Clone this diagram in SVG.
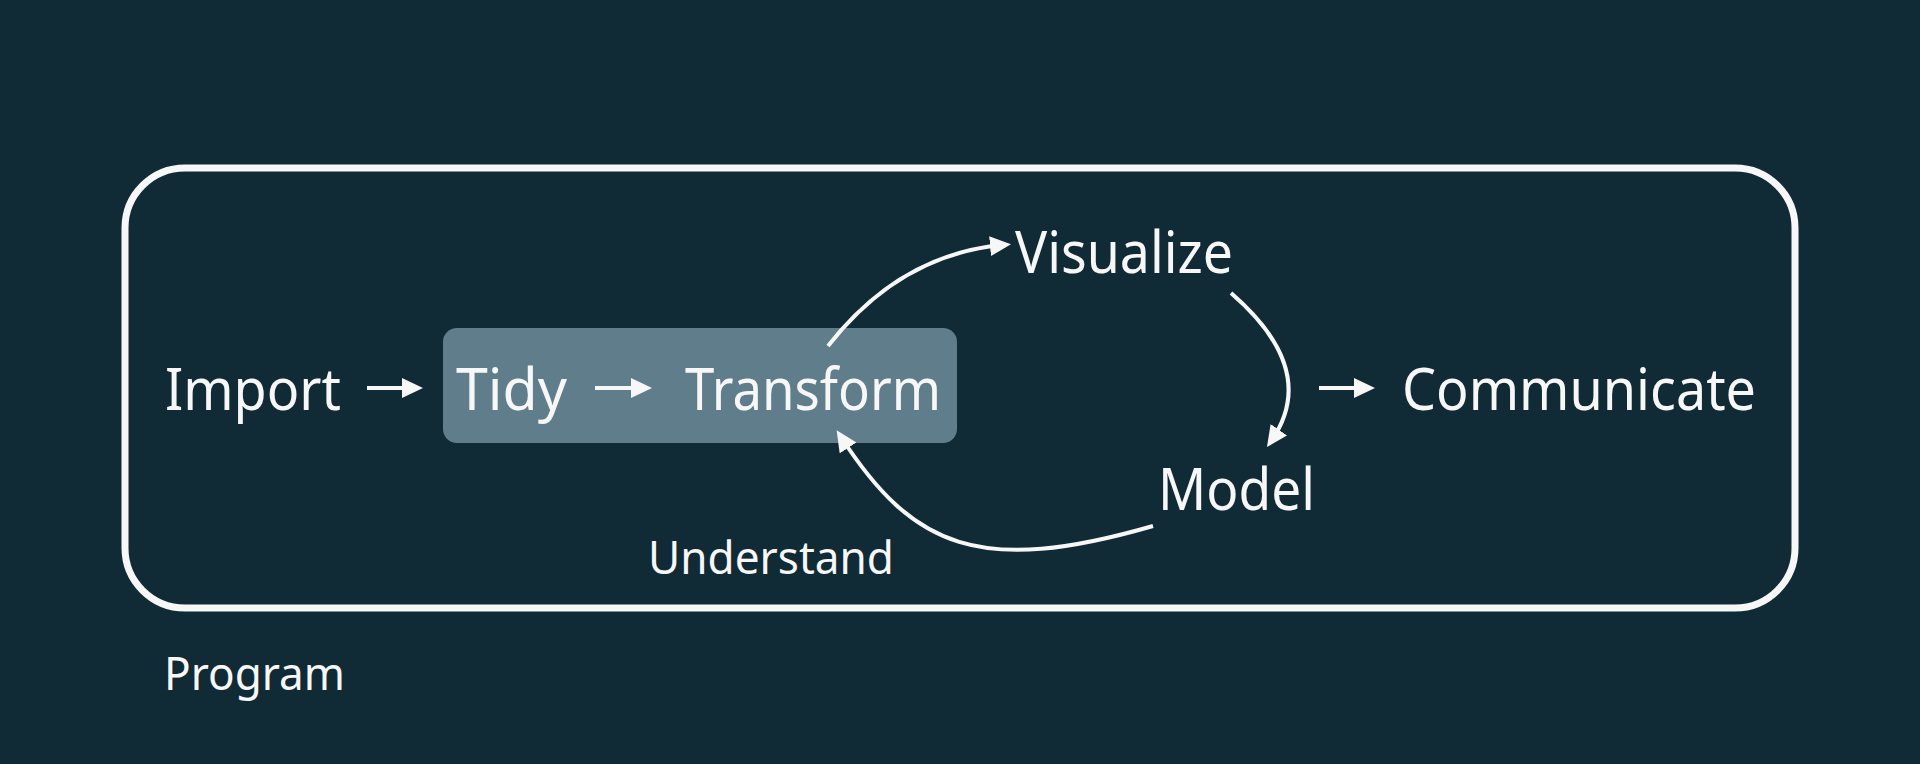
<svg xmlns="http://www.w3.org/2000/svg" width="1920" height="764" viewBox="0 0 1920 764">
  <style>
    .lbl { font-family: "Noto Sans", "Open Sans", sans-serif; fill: #f7f7f7; }
    .big { font-size: 58px; }
    .small { font-size: 45px; }
    .conn { fill: none; stroke: #f7f7f7; stroke-width: 4; marker-end: url(#head); }
  </style>
  <defs>
    <marker id="head" markerUnits="userSpaceOnUse" markerWidth="24" markerHeight="22" refX="13" refY="10" orient="auto">
      <path d="M0,0 L21,10 L0,20 Z" fill="#f7f7f7"/>
    </marker>
  </defs>
  <rect width="1920" height="764" fill="#102a36"/>

  <g id="program-frame">
    <rect x="125" y="168" width="1670" height="440" rx="60" ry="60" fill="none" stroke="#f7f7f7" stroke-width="7"/>
  </g>

  <g id="wrangle-box">
    <rect x="443" y="328" width="514" height="115" rx="14" ry="14" fill="#607d8b"/>
  </g>

  <g id="node-import"><text class="lbl big" x="165" y="410" textLength="176" lengthAdjust="spacingAndGlyphs">Import</text></g>
  <g id="node-tidy"><text class="lbl big" x="456" y="410" textLength="111" lengthAdjust="spacingAndGlyphs">Tidy</text></g>
  <g id="node-transform"><text class="lbl big" x="685" y="410" textLength="256" lengthAdjust="spacingAndGlyphs">Transform</text></g>
  <g id="node-visualize"><text class="lbl big" x="1015" y="273" textLength="218" lengthAdjust="spacingAndGlyphs">Visualize</text></g>
  <g id="node-model"><text class="lbl big" x="1158" y="510" textLength="157" lengthAdjust="spacingAndGlyphs">Model</text></g>
  <g id="node-communicate"><text class="lbl big" x="1402" y="410" textLength="354" lengthAdjust="spacingAndGlyphs">Communicate</text></g>
  <g id="label-understand"><text class="lbl small" x="648" y="574" textLength="246" lengthAdjust="spacingAndGlyphs">Understand</text></g>
  <g id="label-program"><text class="lbl small" x="164" y="690" textLength="181" lengthAdjust="spacingAndGlyphs">Program</text></g>

  <g id="connectors">
    <path class="conn" d="M367,388 L415,388"/>
    <path class="conn" d="M595,388 L644,388"/>
    <path class="conn" d="M1319,388 L1367,388"/>
    <path class="conn" d="M828,346 Q900,254 1003,245"/>
    <path class="conn" d="M1231,293 Q1320,370 1271.5,440.5"/>
    <path class="conn" d="M1153,526 C980,576 913,548 841,437"/>
  </g>
</svg>
